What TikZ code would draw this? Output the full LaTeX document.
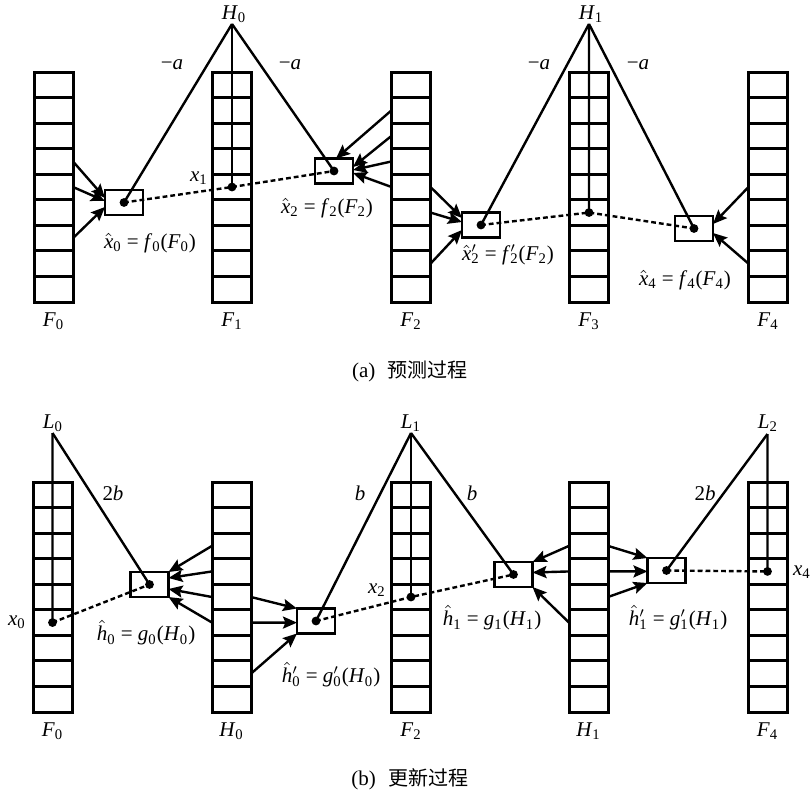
\documentclass[tikz,border=0pt]{standalone}
\usepackage{fontspec}
\setmainfont{Liberation Serif}
\newfontfamily\cjk{Noto Sans CJK SC}
\usetikzlibrary{arrows.meta,calc}
\newcommand\mysub[1]{\textsubscript{#1}}
\newcommand\prsub[1]{\rlap{\ensuremath{^{\prime}}}\textsubscript{#1}}
\newcommand\hatv[1]{\ensuremath{\hat{\mbox{\itshape #1}}}}
\begin{document}
\begin{tikzpicture}[x=0.5pt,y=-0.5pt,
  colbox/.style={draw,line width=1.5pt,minimum width=19.5pt,minimum height=115pt,inner sep=0pt,outer sep=0pt},
  cellline/.style={line width=1.5pt},
  rbox/.style={draw,line width=1.4pt,minimum width=19pt,minimum height=12.5pt,inner sep=0pt,outer sep=0pt},
  ln/.style={line width=1.2pt},
  dsh/.style={line width=1.2pt,dash pattern=on 2.4pt off 1.5pt},
  arr/.style={line width=1.2pt,-{Stealth[length=7pt,width=6pt,inset=1.2pt]}},
  dot/.style={circle,fill,inner sep=0pt,minimum size=4.4pt},
  lbl/.style={font=\fontsize{10.5}{12}\selectfont,inner sep=1pt}]
\useasboundingbox (0,0) rectangle (810,793);

% ---------- columns ----------
\node[colbox] (tF0) at (53.5,187) {};
\node[colbox] (tF1) at (232,187) {};
\node[colbox] (tF2) at (411,187) {};
\node[colbox] (tF3) at (589,187) {};
\node[colbox] (tF4) at (768,187) {};
\node[colbox] (bF0) at (52.5,597) {};
\node[colbox] (bH0) at (231.5,597) {};
\node[colbox] (bF2) at (411,597) {};
\node[colbox] (bH1) at (588.5,597) {};
\node[colbox] (bF4) at (767.5,597) {};
\foreach \c in {tF0,tF1,tF2,tF3,tF4,bF0,bH0,bF2,bH1,bF4}
  \foreach \k in {1,...,8}
    \draw[cellline] ($(\c.north west)!\k/9!(\c.south west)$) -- ($(\c.north east)!\k/9!(\c.south east)$);

% ---------- boxes ----------
\node[rbox] (bx0) at (124,202.5) {};
\node[rbox] (bx2) at (334,171) {};
\node[rbox] (bx2p) at (481,225) {};
\node[rbox] (bx4) at (694,228.5) {};
\node[rbox] (bh0) at (149.5,584.5) {};
\node[rbox] (bh0p) at (316,621) {};
\node[rbox] (bh1) at (513.5,574.5) {};
\node[rbox] (bh1p) at (666.5,570.5) {};

% ---------- dots ----------
\node[dot] (dx0) at (bx0.center) {};
\node[dot] (dx2) at (bx2.center) {};
\node[dot] (dx2p) at (bx2p.center) {};
\node[dot] (dx4) at (bx4.center) {};
\node[dot] (dX1) at ($(tF1.north)!4.5/9!(tF1.south)$) {};
\node[dot] (dX3) at ($(tF3.north)!5.5/9!(tF3.south)$) {};
\node[dot] (dh0) at (bh0.center) {};
\node[dot] (dh0p) at (bh0p.center) {};
\node[dot] (dh1) at (bh1.center) {};
\node[dot] (dh1p) at (bh1p.center) {};
\node[dot] (dB0) at ($(bF0.north)!5.5/9!(bF0.south)$) {};
\node[dot] (dB2) at ($(bF2.north)!4.5/9!(bF2.south)$) {};
\node[dot] (dB4) at ($(bF4.north)!3.5/9!(bF4.south)$) {};

% ---------- apexes ----------
\coordinate (aH0) at (232,24);
\coordinate (aH1) at (589,24);
\coordinate (aL0) at (52.5,433);
\coordinate (aL1) at (411,433);
\coordinate (aL2) at (767.5,434);

% ---------- solid lines ----------
\draw[ln] (aH0) -- (dx0.center);
\draw[ln] (aH0) -- (dX1.center);
\draw[ln] (aH0) -- (dx2.center);
\draw[ln] (aH1) -- (dx2p.center);
\draw[ln] (aH1) -- (dX3.center);
\draw[ln] (aH1) -- (dx4.center);
\draw[ln] (aL0) -- (dB0.center);
\draw[ln] (aL0) -- (dh0.center);
\draw[ln] (aL1) -- (dh0p.center);
\draw[ln] (aL1) -- (dB2.center);
\draw[ln] (aL1) -- (dh1.center);
\draw[ln] (aL2) -- (dh1p.center);
\draw[ln] (aL2) -- (dB4.center);

% ---------- dashed lines ----------
\draw[dsh] (dx0.center) -- (dX1.center) -- (dx2.center);
\draw[dsh] (dx2p.center) -- (dX3.center) -- (dx4.center);
\draw[dsh] (dB0.center) -- (dh0.center);
\draw[dsh] (dh0p.center) -- (dB2.center) -- (dh1.center);
\draw[dsh] (dh1p.center) -- (dB4.center);

% ---------- arrows (a) ----------
\draw[arr] ($(tF0.north east)!3.5/9!(tF0.south east)$) -- ($(bx0.west)+(0,-4.5)$);
\draw[arr] ($(tF0.north east)!4.5/9!(tF0.south east)$) -- ($(bx0.west)+(0,-1.5)$);
\draw[arr] ($(tF0.north east)!6.5/9!(tF0.south east)$) -- ($(bx0.west)+(0,4.5)$);
\draw[arr] ($(tF2.north west)!1.5/9!(tF2.south west)$) -- ($(bx2.north)+(2,0)$);
\draw[arr] ($(tF2.north west)!2.5/9!(tF2.south west)$) -- ($(bx2.east)+(0,-4)$);
\draw[arr] ($(tF2.north west)!3.5/9!(tF2.south west)$) -- ($(bx2.east)+(0,-1)$);
\draw[arr] ($(tF2.north west)!4.5/9!(tF2.south west)$) -- ($(bx2.east)+(0,2)$);
\draw[arr] ($(tF2.north east)!4.5/9!(tF2.south east)$) -- ($(bx2p.west)+(0,-7)$);
\draw[arr] ($(tF2.north east)!5.5/9!(tF2.south east)$) -- ($(bx2p.west)+(0,-3)$);
\draw[arr] ($(tF2.north east)!7.5/9!(tF2.south east)$) -- ($(bx2p.west)+(0,5)$);
\draw[arr] ($(tF4.north west)!4.5/9!(tF4.south west)$) -- ($(bx4.east)+(0,-4.5)$);
\draw[arr] ($(tF4.north west)!7.5/9!(tF4.south west)$) -- ($(bx4.east)+(0,4.5)$);

% ---------- arrows (b) ----------
\draw[arr] ($(bH0.north west)!2.5/9!(bH0.south west)$) -- (bh0.north east);
\draw[arr] ($(bH0.north west)!3.5/9!(bH0.south west)$) -- ($(bh0.east)+(0,-6.5)$);
\draw[arr] ($(bH0.north west)!4.5/9!(bH0.south west)$) -- ($(bh0.east)+(0,4.5)$);
\draw[arr] ($(bH0.north west)!5.5/9!(bH0.south west)$) -- (bh0.south east);
\draw[arr] ($(bH0.north east)!4.5/9!(bH0.south east)$) -- (bh0p.north west);
\draw[arr] ($(bH0.north east)!5.5/9!(bH0.south east)$) -- ($(bh0p.west)+(0,1.6)$);
\draw[arr] ($(bH0.north east)!7.5/9!(bH0.south east)$) -- (bh0p.south west);
\draw[arr] ($(bH1.north west)!2.5/9!(bH1.south west)$) -- (bh1.north east);
\draw[arr] ($(bH1.north west)!3.5/9!(bH1.south west)$) -- ($(bh1.east)+(0,-2)$);
\draw[arr] ($(bH1.north west)!5.5/9!(bH1.south west)$) -- (bh1.south east);
\draw[arr] ($(bH1.north east)!2.5/9!(bH1.south east)$) -- (bh1p.north west);
\draw[arr] ($(bH1.north east)!3.5/9!(bH1.south east)$) -- ($(bh1p.west)+(0,0.9)$);
\draw[arr] ($(bH1.north east)!4.5/9!(bH1.south east)$) -- (bh1p.south west);

% ---------- labels (a) ----------
\node[lbl] (lH0) at (234,14) {\textit{H}\mysub{0}};
\node[lbl] (lH1) at (591,14) {\textit{H}\mysub{1}};
\node[lbl] (ea1) at (172,65) {−\textit{a}};
\node[lbl] (ea2) at (290,65) {−\textit{a}};
\node[lbl] (ea3) at (539,65) {−\textit{a}};
\node[lbl] (ea4) at (638,65) {−\textit{a}};
\node[lbl] (lx1) at (199,178) {\textit{x}\mysub{1}};
\node[lbl] (lfx0) at (150,243) {\hatv{x}\mysub{0} = \textit{f}\mysub{0}(\textit{F}\mysub{0})};
\node[lbl] (lfx2) at (327,208) {\hatv{x}\mysub{2} = \textit{f}\mysub{2}(\textit{F}\mysub{2})};
\node[lbl] (lfx2p) at (508,255) {\hatv{x}\prsub{2} = \textit{f}\prsub{2}(\textit{F}\mysub{2})};
\node[lbl] (lfx4) at (685,280) {\hatv{x}\mysub{4} = \textit{f}\mysub{4}(\textit{F}\mysub{4})};
\node[lbl] (ltF0) at (53.5,321) {\textit{F}\mysub{0}};
\node[lbl] (ltF1) at (232,321) {\textit{F}\mysub{1}};
\node[lbl] (ltF2) at (411,321) {\textit{F}\mysub{2}};
\node[lbl] (ltF3) at (589,321) {\textit{F}\mysub{3}};
\node[lbl] (ltF4) at (768,321) {\textit{F}\mysub{4}};
\node[lbl] (capa) at (410,371) {(a)\hspace{0.6em}{\cjk\fontsize{10}{12}\selectfont 预测过程}};

% ---------- labels (b) ----------
\node[lbl] (lL0) at (53,423) {\textit{L}\mysub{0}};
\node[lbl] (lL1) at (411,423) {\textit{L}\mysub{1}};
\node[lbl] (lL2) at (768,423) {\textit{L}\mysub{2}};
\node[lbl] (eb1) at (113,493) {2\textit{b}};
\node[lbl] (eb2) at (360,493) {\textit{b}};
\node[lbl] (eb3) at (472,493) {\textit{b}};
\node[lbl] (eb4) at (705,493) {2\textit{b}};
\node[lbl] (lx0) at (17,622) {\textit{x}\mysub{0}};
\node[lbl] (lx2) at (377,590) {\textit{x}\mysub{2}};
\node[lbl] (lx4) at (802,572) {\textit{x}\mysub{4}};
\node[lbl] (lgh0) at (146,633) {\hatv{h}\mysub{0} = \textit{g}\mysub{0}(\textit{H}\mysub{0})};
\node[lbl] (lgh0p) at (331,675) {\hatv{h}\prsub{0} = \textit{g}\prsub{0}(\textit{H}\mysub{0})};
\node[lbl] (lgh1) at (492,618) {\hatv{h}\mysub{1} = \textit{g}\mysub{1}(\textit{H}\mysub{1})};
\node[lbl] (lgh1p) at (678,618) {\hatv{h}\prsub{1} = \textit{g}\prsub{1}(\textit{H}\mysub{1})};
\node[lbl] (lbF0) at (52.5,731) {\textit{F}\mysub{0}};
\node[lbl] (lbH0) at (231.5,731) {\textit{H}\mysub{0}};
\node[lbl] (lbF2) at (411,731) {\textit{F}\mysub{2}};
\node[lbl] (lbH1) at (588.5,731) {\textit{H}\mysub{1}};
\node[lbl] (lbF4) at (767.5,731) {\textit{F}\mysub{4}};
\node[lbl] (capb) at (410,779) {(b)\hspace{0.6em}{\cjk\fontsize{10}{12}\selectfont 更新过程}};
\end{tikzpicture}
\end{document}
